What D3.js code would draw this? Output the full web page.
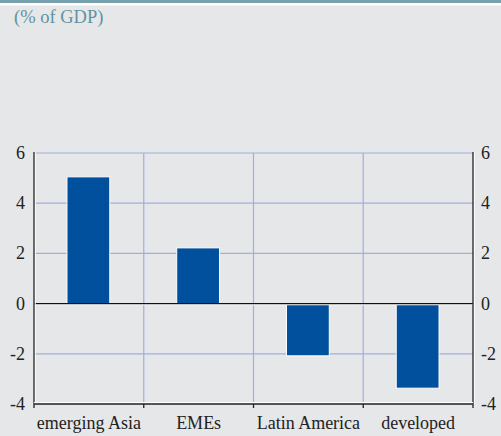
<!DOCTYPE html>
<html><head><meta charset="utf-8">
<script src="https://cdn.jsdelivr.net/npm/d3@7"></script>
<style>html,body{margin:0;padding:0;background:#e6e7e9;}svg{display:block;}</style>
</head><body>
<script>
const categories = ["emerging Asia", "EMEs", "Latin America", "developed"];
const values = [5.05, 2.22, -2.08, -3.37];
const yTicks = [-4, -2, 0, 2, 4, 6];
const unitLabel = "(% of GDP)";

const W = 501, H = 436;
const L = 34, R = 473, T = 153, B = 404;
const svg = d3.select("body").append("svg").attr("width", W).attr("height", H);
svg.append("rect").attr("width", W).attr("height", H).attr("fill", "#e6e7e9");
svg.append("rect").attr("x", 0).attr("y", 0).attr("width", W).attr("height", 3).attr("fill", "#76a0ae");
svg.append("rect").attr("x", 0).attr("y", 3).attr("width", W).attr("height", 2.5).attr("fill", "#ffffff");

svg.append("text").attr("x", 14).attr("y", 23).text(unitLabel)
  .attr("font-family", "Liberation Serif").attr("font-size", 18.5).attr("fill", "#5f93a3");

const x = d3.scaleBand().domain(categories).range([L, R]).paddingInner(0).paddingOuter(0);
const y = d3.scaleLinear().domain([-4, 6]).range([B, T]);

const g = svg.append("g");
// horizontal grid
g.selectAll("line.hg").data(yTicks.filter(d => d !== 0 && d !== -4)).enter().append("line")
  .attr("x1", L).attr("x2", R).attr("y1", d => y(d)).attr("y2", d => y(d))
  .attr("stroke", "#9fb0dc").attr("stroke-width", 1.2);
// vertical grid at category boundaries
const bounds = categories.slice(1).map(c => x(c));
g.selectAll("line.vg").data(bounds).enter().append("line")
  .attr("x1", d => d).attr("x2", d => d).attr("y1", T).attr("y2", B)
  .attr("stroke", "#9fb0dc").attr("stroke-width", 1.2);

// bars
const bw = x.bandwidth() * 0.39;
g.selectAll("rect.bar").data(values).enter().append("rect")
  .attr("x", (d, i) => x(categories[i]) + x.bandwidth() / 2 - bw / 2 - 0.5)
  .attr("y", d => y(Math.max(0, d)))
  .attr("width", bw)
  .attr("height", d => Math.abs(y(d) - y(0)))
  .attr("fill", "#00509e").attr("stroke", "#ffffff").attr("stroke-width", 1);

// zero line
g.append("line").attr("x1", L).attr("x2", R).attr("y1", y(0) + 1).attr("y2", y(0) + 1)
  .attr("stroke", "#ffffff").attr("stroke-width", 1.5);
g.append("line").attr("x1", L).attr("x2", R).attr("y1", y(0)).attr("y2", y(0))
  .attr("stroke", "#111").attr("stroke-width", 1.3);

// axes lines
function dline(x1, y1, x2, y2, dx, dy) {
  g.append("line").attr("x1", x1 + dx).attr("x2", x2 + dx).attr("y1", y1 + dy).attr("y2", y2 + dy)
    .attr("stroke", "#fff").attr("stroke-width", 1.5);
  g.append("line").attr("x1", x1).attr("x2", x2).attr("y1", y1).attr("y2", y2)
    .attr("stroke", "#222").attr("stroke-width", 1.3);
}
dline(L, T - 1, L, B, 1, 0);
dline(R, T - 1, R, B, 1, 0);
dline(L, B, R, B, 0, -1.2);
// bottom ticks
const tickXs = [L].concat(bounds).concat([R]);
tickXs.forEach(tx => {
  g.append("line").attr("x1", tx).attr("x2", tx).attr("y1", B).attr("y2", B + 4)
    .attr("stroke", "#222").attr("stroke-width", 1.3);
});

// y labels
const lab = svg.append("g").attr("font-family", "Liberation Serif").attr("font-size", 18).attr("fill", "#222");
lab.selectAll("text.yl").data(yTicks).enter().append("text")
  .attr("x", 25).attr("y", d => y(d) + 6).attr("text-anchor", "end").text(d => d);
lab.selectAll("text.yr").data(yTicks).enter().append("text")
  .attr("x", 481).attr("y", d => y(d) + 6).attr("text-anchor", "start").text(d => d);
lab.selectAll("text.xl").data(categories).enter().append("text")
  .attr("x", d => x(d) + x.bandwidth() / 2).attr("y", 429).attr("text-anchor", "middle").text(d => d);
</script>
</body></html>
